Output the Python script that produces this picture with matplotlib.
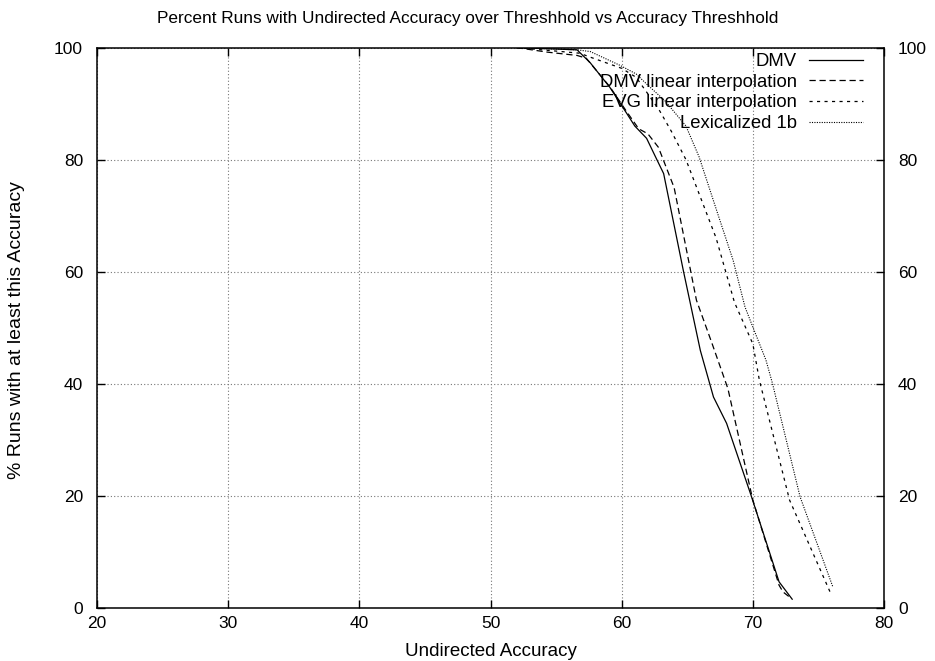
import matplotlib
matplotlib.use("Agg")
import matplotlib.pyplot as plt

plt.rcParams['font.family'] = ['Liberation Sans', 'DejaVu Sans']

# values
dmv_x = [52.0, 56.6, 57.6, 59.1, 60.4, 61.0, 61.9, 62.6, 63.2, 64.7, 66.0, 67.0, 68.0, 69.9, 72.0, 73.0]
dmv_y = [100.0, 99.6, 97.3, 92.9, 88.2, 86.0, 83.8, 80.4, 77.5, 60.2, 45.9, 37.6, 32.9, 19.8, 4.6, 1.5]

dmv_lin_x = [52.0, 54.3, 56.6, 57.3, 59.1, 60.4, 61.3, 62.0, 62.8, 64.0, 65.7, 66.9, 68.1, 70.0, 72.0, 72.3, 72.9]
dmv_lin_y = [100.0, 99.2, 98.6, 98.1, 93.0, 88.5, 85.5, 84.6, 82.2, 75.0, 54.9, 47.1, 39.1, 19.2, 4.0, 2.8, 1.7]

evg_x = [52.0, 56.8, 57.6, 60.0, 61.1, 62.1, 62.9, 63.8, 64.9, 67.2, 68.6, 70.0, 70.5, 72.8, 76.0]
evg_y = [100.0, 99.0, 98.3, 96.3, 94.7, 91.4, 88.7, 85.0, 80.0, 66.0, 54.5, 47.1, 40.6, 19.2, 2.2]

lex_x = [52.0, 56.6, 57.6, 59.9, 61.1, 61.9, 63.3, 64.9, 65.9, 67.3, 68.5, 69.4, 70.0, 71.0, 71.5, 73.6, 76.1]
lex_y = [100.0, 99.6, 99.3, 96.8, 95.3, 93.5, 90.5, 86.0, 80.5, 70.5, 62.0, 53.7, 50.1, 44.2, 40.0, 19.8, 3.7]

x_ticks = [20, 30, 40, 50, 60, 70, 80]
y_ticks = [0, 20, 40, 60, 80, 100]

fig = plt.figure(figsize=(9.35, 6.61), dpi=100)
ax = fig.add_axes([97 / 935, 1 - 607.6 / 661, 787 / 935, 560 / 661])

ax.plot(dmv_x, dmv_y, color='black', lw=0.9, ls='-', label='DMV')
ax.plot(dmv_lin_x, dmv_lin_y, color='black', lw=0.9, ls=(0, (5, 3)), label='DMV linear interpolation')
ax.plot(evg_x, evg_y, color='black', lw=0.9, ls=(0, (2.5, 3.5)), label='EVG linear interpolation')
ax.plot(lex_x, lex_y, color='black', lw=0.8, ls=(0, (1, 1.2)), label='Lexicalized 1b')

ax.set_xlim(20, 80)
ax.set_ylim(0, 100)
ax.set_xticks(x_ticks)
ax.set_yticks(y_ticks)
ax.tick_params(direction='in', length=6, width=1, top=True, right=True,
               labelright=True, labelsize=12.5, colors='black')
ax.tick_params(axis='y', pad=10)
ax.tick_params(axis='x', pad=6)
ax.grid(True, ls=(0, (1, 2)), color='#777777', lw=0.8)
for s in ax.spines.values():
    s.set_linewidth(1.1)

# gnuplot-style key: text right-aligned, sample line after it
ax.legend(loc='upper right', bbox_to_anchor=(863 / 935, 1 - 53 / 661),
          bbox_transform=fig.transFigure, frameon=False, markerfirst=False,
          fontsize=13.3, handlelength=2.9, handletextpad=0.7, labelspacing=0.2,
          borderpad=0.0, borderaxespad=0.0)

fig.text(0.5, 1 - 18 / 661, 'Percent Runs with Undirected Accuracy over Threshhold vs Accuracy Threshhold',
         ha='center', va='center', fontsize=12.4)
fig.text(490.5 / 935, 1 - 652 / 661, 'Undirected Accuracy', ha='center', va='center', fontsize=13.5)
fig.text(17 / 935, 0.5, '% Runs with at least this Accuracy', ha='center', va='center',
         rotation=90, fontsize=14)

fig.savefig('out.png', dpi=100)
